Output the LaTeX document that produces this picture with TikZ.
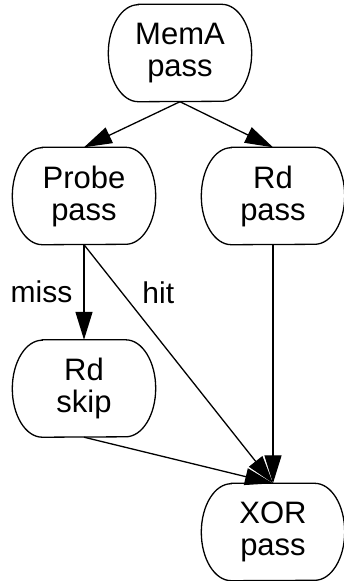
\documentclass[tikz,border=0pt]{standalone}
\usepackage{fontspec}
\setmainfont{Liberation Sans}
\usetikzlibrary{arrows.meta}

% outline of a pass box: flat top and bottom, elliptic ends
\newcommand{\passoutline}[1]{%
  \draw[line width=1.3pt] ([xshift=30pt]#1.north west) -- ([xshift=-30pt]#1.north east)
    arc[start angle=90,end angle=-90,x radius=30pt,y radius=48.5pt]
    -- ([xshift=30pt]#1.south west)
    arc[start angle=-90,end angle=-270,x radius=30pt,y radius=48.5pt] -- cycle;}

\begin{document}
\begin{tikzpicture}[x=1pt,y=-1pt,
    passbox/.style={align=center,minimum width=143pt,minimum height=97pt,inner sep=0pt,
      font=\fontsize{31}{32}\selectfont},
    edgelbl/.style={inner sep=0pt,font=\fontsize{30}{32}\selectfont},
    flow/.style={line width=1.3pt,-{Triangle[length=28pt,width=17pt]}}]
    \useasboundingbox (0,0) rectangle (343,581);
    \node[passbox] (mema) at (180,53) {MemA\\pass};
    \node[passbox] (probe) at (84,196) {Probe\\pass};
    \node[passbox] (rdpass) at (273,196) {Rd\\pass};
    \node[passbox] (rdskip) at (84,388.5) {Rd\\skip};
    \node[passbox] (xor) at (273,532) {XOR\\pass};
    \passoutline{mema}
    \passoutline{probe}
    \passoutline{rdpass}
    \passoutline{rdskip}
    \passoutline{xor}
    \draw[flow] (mema.south) -- (probe.north);
    \draw[flow] (mema.south) -- (rdpass.north);
    \draw[flow] (probe.south) -- node[edgelbl,left=11pt] {miss} (rdskip.north);
    \draw[flow] (probe.south) -- node[edgelbl,pos=0.2,right=20pt] {hit} (xor.north);
    \draw[flow] (rdpass.south) -- (xor.north);
    \draw[flow] (rdskip.south) -- (xor.north);
  \end{tikzpicture}
\end{document}
